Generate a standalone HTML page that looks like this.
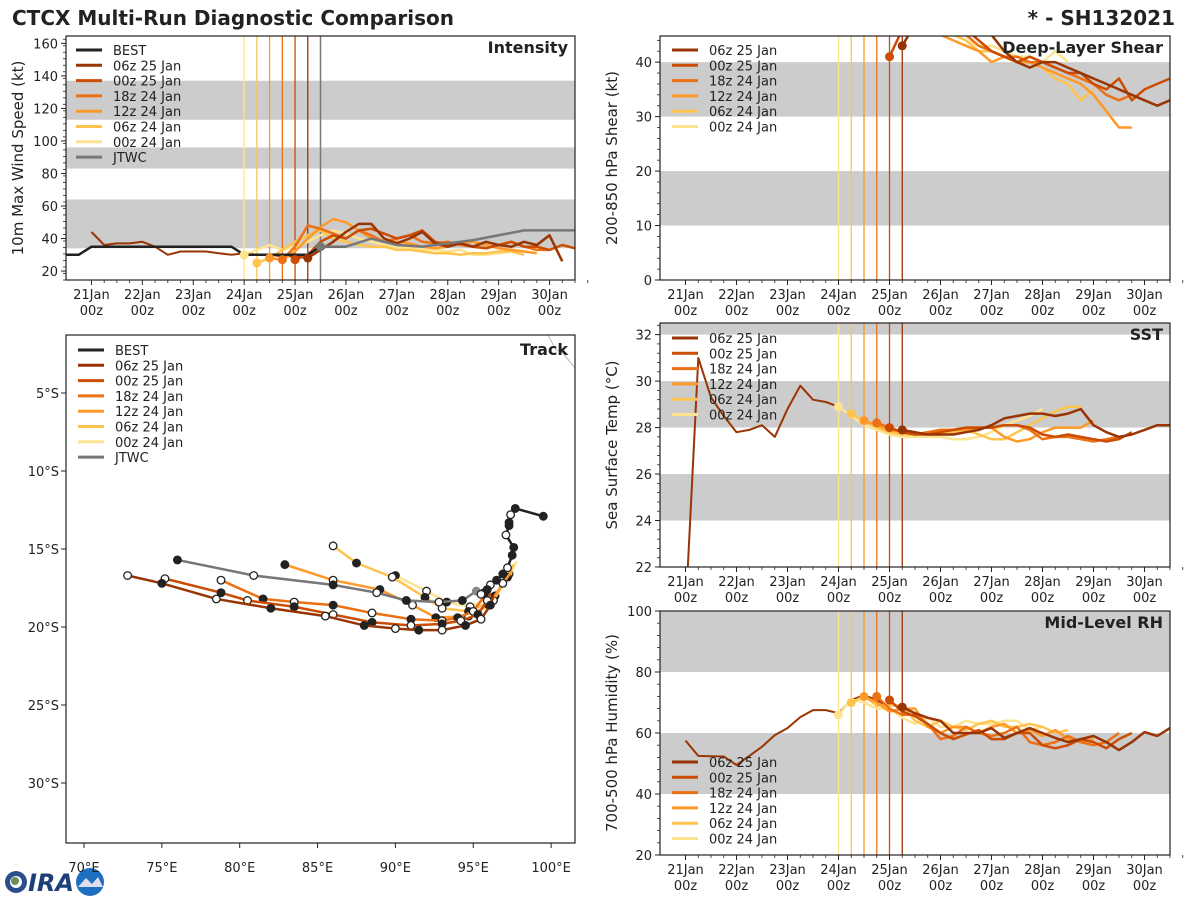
<!DOCTYPE html>
<html><head><meta charset="utf-8"><style>
body{margin:0;background:#fff;width:1200px;height:900px;overflow:hidden;font-family:"DejaVu Sans","Liberation Sans",sans-serif}
svg text{font-family:"DejaVu Sans","Liberation Sans",sans-serif;fill:#222}
</style></head><body>
<svg id="c" width="1200" height="900" xmlns="http://www.w3.org/2000/svg">
<text x="12" y="25" font-size="20" font-weight="bold">CTCX Multi-Run Diagnostic Comparison</text>
<text x="1175" y="25" font-size="20" font-weight="bold" text-anchor="end">* - SH132021</text>
<g>
<circle cx="16" cy="882" r="11" fill="#2a4f8a"/><circle cx="16" cy="882" r="6" fill="#fff"/><circle cx="15" cy="881" r="4" fill="#6b8f5a"/>
<text x="28" y="891" font-size="24" font-weight="bold" style="fill:#1f3f7a" font-style="italic">IRA</text>
<circle cx="90" cy="882" r="14" fill="#1e6fc0"/><path d="M78 887 L86 878 L92 884 L98 877 L103 887 Z" fill="#dde"/>
</g>
</svg>
<script>
// ===== data =====
const runLabels=["06z 25 Jan","00z 25 Jan","18z 24 Jan","12z 24 Jan","06z 24 Jan","00z 24 Jan"];
const runColors=["#993404","#cc4c02","#ec7014","#fe9929","#fec44f","#fee391"];
const runInit=[4.25,4.0,3.75,3.5,3.25,3.0];
const dayLabels=["21Jan","22Jan","23Jan","24Jan","25Jan","26Jan","27Jan","28Jan","29Jan","30Jan"];
// intensity (kt), 6-hourly
const bestStart=-0.5;
const bestVmax=[30,30,35,35,35,35,35,35,35,35,35,35,35,35,30,30,30,30,30,30,35,35,35];
const hist06zStart=0;
const hist06zVmax=[44,36,37,37,38,35,30,32,32,32,31,30,31,30,30,29,29,28];
const jtwcTimes=[4.5,5.0,5.5,6.0,6.5,7.0,7.5,8.0,8.5,9.0,9.5];
const jtwcVmax=[35,35,40,36,35,37,39,42,45,45,45];
const vmaxRuns=[
[28,33,38,44,49,49,40,37,40,44,37,35,37,35,38,36,35,38,36,42,26],
[27,30,38,42,40,45,46,43,40,42,45,38,36,37,35,34,36,38,35,35,33,36,34],
[27,35,48,46,43,40,45,42,38,40,42,38,37,38,36,35,34,36,38,35,33,33],
[28,27,32,40,47,52,50,45,40,38,38,37,35,34,35,37,38,36,34,33,32,31],
[25,28,33,38,42,45,40,38,36,35,35,33,33,32,31,31,30,31,31,32,32,30],
[30,33,36,33,35,38,42,45,43,40,38,36,35,34,33,33,32,33,30,30,31,32]];
// shear (kt)
const shearRuns=[
[43,47,50,52,50,48,47,45,42,40,39,40,40,39,38,37,36,35,34,33,32,33,35,37,38],
[41,46,49,50,48,47,46,44,42,41,40,41,40,39,38,38,36,35,37,33,35,36,37,39],
[48,50,47,46,45,46,47,45,43,42,41,41,40,40,39,38,37,36,34,33,34,33],
[50,48,47,45,46,47,45,44,43,42,40,41,40,40,39,38,37,36,34,31,28,28],
[50,49,48,47,47,46,45,46,45,44,42,42,41,40,40,39,37,36,33,35],
[51,50,49,48,48,47,46,46,45,45,44,43,43,42,41,41,40,42,40]];
// SST (C)
const sstHistStart=0;
const sstHist=[20,31,29.3,28.5,27.8,27.9,28.1,27.6,28.8,29.8,29.2,29.1,28.9];
const sstRuns=[
[27.9,27.8,27.7,27.7,27.7,27.8,27.9,28.1,28.4,28.5,28.6,28.6,28.5,28.6,28.8,28.1,27.8,27.6,27.7,27.9,28.1,28.1,28.1],
[28.0,27.8,27.7,27.7,27.8,27.9,28.0,28.0,28.0,28.1,28.1,28.0,27.7,27.6,27.7,27.6,27.5,27.4,27.5,27.8],
[28.2,28.0,27.8,27.7,27.8,27.9,27.9,28.0,28.0,28.0,28.1,28.1,27.9,27.5,27.6,27.6,27.5,27.4,27.5,27.6],
[28.3,28.1,27.9,27.8,27.7,27.8,27.9,27.9,27.9,28.0,28.0,27.6,27.4,27.5,27.8,28.0,28.0,28.0,28.3],
[28.6,28.3,28.0,27.8,27.7,27.7,27.8,27.8,27.8,27.9,27.7,27.5,27.5,27.8,28.1,28.4,28.7,28.9,28.9],
[28.9,28.5,28.1,27.9,27.7,27.6,27.6,27.6,27.6,27.5,27.5,27.6,27.8,28.1,28.3,28.5,28.8]];
// RH (%)
const rhHistStart=0;
const rhHist=[57.5,52.5,52.4,52.3,49.5,52.5,55.5,59.3,61.6,65.2,67.5,67.5,66.5,70.8,72.4,70.8,68.5];
const rhRuns=[
[68.5,66.5,65,64,60,60,60,61.6,58.4,60,61.6,60,58.4,57,58,59,57,54.4,57,60.3,59,61.6],
[70.8,67,65.5,63,60,58,59.5,61,58,58,60,60,56,55,56,58,57,55,58,60],
[72,68,66,66,63,58,59,62,60,59,60,62,57,56,57,59,57,56,57,60],
[72,70,67,68,68,62,60,62,62,60,62,63,60,61,59,61,58,57,58],
[70,72,69,69,69,64,62,64,62,61,63,64,62,62,63,62,60,61],
[66,71,70,68,68,65,63,65,62,62,64,63,63,64,64,61,62]];
// track (lon E, lat S)
const bestLon=[99.5,97.7,97.4,97.3,97.3,97.1,97.6,97.5,97.2,96.9,96.5,96.1,95.9,95.7,95.5];
const bestLat=[12.9,12.4,12.8,13.3,13.5,14.1,14.9,15.4,16.2,16.6,17.0,17.3,17.6,17.8,17.9];
const jtwcLon=[95.2,94.3,92.8,90.7,88.8,86.0,80.9,76.0];
const jtwcLat=[17.7,18.3,18.4,18.3,17.8,17.3,16.7,15.7];
const trackLon=[
[96.3,96.1,95.5,94.5,93.0,91.5,90.0,88.0,85.5,82.0,78.5,75.0,72.8],
[96.1,95.9,95.3,94.2,93.0,91.0,88.5,86.0,83.5,80.5,78.8,75.2],
[95.9,95.8,95.0,94.0,93.0,91.0,88.5,86.0,83.5,81.5,78.8],
[97.5,96.9,96.0,94.7,92.6,91.1,89.0,86.0,82.9],
[97.6,97.2,96.3,94.7,93.0,91.9,89.8,87.5,86.0],
[97.8,97.3,96.4,94.8,93.3,92.0,90.0]];
const trackLat=[
[18.0,18.6,19.5,19.9,20.2,20.2,20.1,19.9,19.3,18.8,18.2,17.2,16.7],
[17.8,18.3,19.2,19.6,19.8,19.9,19.7,19.2,18.7,18.3,17.8,16.9],
[17.5,17.9,19.0,19.4,19.6,19.5,19.1,18.6,18.4,18.2,17.0],
[16.4,17.2,18.6,19.3,19.4,18.6,17.6,17.0,16.0],
[16.0,16.8,18.3,19.0,18.8,18.1,16.8,15.9,14.8],
[15.8,16.6,18.0,18.7,18.4,17.7,16.7]];
const tickLon=[70,75,80,85,90,95,100];
const tickLat=[5,10,15,20,25,30];

// ===== helpers =====
const NS="http://www.w3.org/2000/svg",svg=document.getElementById('c');
function el(t,a,p){const e=document.createElementNS(NS,t);for(const k in a)e.setAttribute(k,a[k]);(p||svg).appendChild(e);return e;}
function txt(s,a,p){const e=el('text',a,p);e.textContent=s;return e;}
function panel(name,x0,y0,x1,y1,ymin,ymax,bands,yticks,ytitle,title,withX){
  const g=el('g',{});
  
  
  const cp=el('clipPath',{id:'cp-'+name},g);el('rect',{x:x0,y:y0,width:x1-x0,height:y1-y0},cp);
  const Y=v=>y1-(v-ymin)/(ymax-ymin)*(y1-y0);
  const ppd=(x1-x0)/10, X=t=>x0+(t+0.5)*ppd;
  bands.forEach(b=>{const r=el('rect',{x:x0,y:Y(Math.min(b[1],ymax)),width:x1-x0,height:Y(b[0])-Y(Math.min(b[1],ymax)),fill:'#cccccc'},g);
    });
  yticks.forEach(v=>{el('line',{x1:x0-5,x2:x0,y1:Y(v),y2:Y(v),stroke:'#222'},g);
    const t=txt(String(v),{x:x0-8,y:Y(v)+5,'font-size':13,'text-anchor':'end'},g);});
  const step=(yticks[1]-yticks[0])/5;
  for(let v=ymin;v<=ymax;v+=step){if(v>=ymin)el('line',{x1:x0-3,x2:x0,y1:Y(v),y2:Y(v),stroke:'#222','stroke-width':0.8},g);}
  if(withX){dayLabels.forEach((d,i)=>{const x=X(i);el('line',{x1:x,x2:x,y1:y1,y2:y1+5,stroke:'#222'},g);
    const a=txt(d,{x:x,y:y1+19,'font-size':13,'text-anchor':'middle'},g);
    txt('00z',{x:x,y:y1+35,'font-size':13,'text-anchor':'middle'},g);
    for(let k=1;k<4;k++)el('line',{x1:x+k*ppd/4,x2:x+k*ppd/4,y1:y1,y2:y1+3,stroke:'#222','stroke-width':0.8},g);});}
  const yt=txt(ytitle,{transform:`translate(${x0-43},${(y0+y1)/2}) rotate(-90)`,'font-size':15,'text-anchor':'middle'},g);
  
  const data=el('g',{'clip-path':`url(#cp-${name})`},g);
  el('rect',{x:x0,y:y0,width:x1-x0,height:y1-y0,fill:'none',stroke:'#222','stroke-width':1.2},g);
  const tt=txt(title,{x:x1-7,y:y0+17,'font-size':16,'font-weight':'bold','text-anchor':'end'},g);
  
  return {g,data,X,Y,x0,y0,x1,y1};
}
function series(P,t0,vals,color,w,name){
  const pts=vals.map((v,i)=>P.X(t0+i*0.25).toFixed(1)+','+P.Y(v).toFixed(1)).join(' ');
  const l=el('polyline',{points:pts,fill:'none',stroke:color,'stroke-width':w||2.5,'stroke-linejoin':'round'},P.data);
  
  
  return l;
}
function initLines(P){
  runInit.forEach((t,i)=>{el('line',{x1:P.X(t),x2:P.X(t),y1:P.y0,y2:P.y1,stroke:runColors[i],'stroke-width':1.3},P.data);});
}
function dots(P,runs){runInit.forEach((t,i)=>{const c=el('circle',{cx:P.X(t),cy:P.Y(runs[i][0]),r:4.5,fill:runColors[i]},P.data);
  });}
function legend(P,x,y,entries){
  const g=el('g',{},P.g);
  
  
  entries.forEach((e,i)=>{const yy=y+i*15.3;el('line',{x1:x,x2:x+26,y1:yy,y2:yy,stroke:e[1],'stroke-width':3},g);
    const t=txt(e[0],{x:x+37,y:yy+5,'font-size':13},g);});
}
const runEntries=runLabels.map((l,i)=>[l,runColors[i]]);

// ===== intensity =====
const I=panel('intensity',66,36,575,280,14.5,164.5,[[34,64],[83,96],[113,137]],[20,40,60,80,100,120,140,160],'10m Max Wind Speed (kt)','Intensity',true);
initLines(I);
el('line',{x1:I.X(4.5),x2:I.X(4.5),y1:I.y0,y2:I.y1,stroke:'#777','stroke-width':1.5},I.data);
series(I,hist06zStart,hist06zVmax,runColors[0],2,'history-line');
for(let i=5;i>=0;i--)series(I,runInit[i],vmaxRuns[i],runColors[i],2.5,'intensity-run-line');
series(I,bestStart,bestVmax,'#222',2.5,'best-track-intensity');
{const pts=jtwcTimes.map((t,i)=>I.X(t)+','+I.Y(jtwcVmax[i])).join(' ');const l=el('polyline',{points:pts,fill:'none',stroke:'#777','stroke-width':2.5},I.data);

el('circle',{cx:I.X(4.5),cy:I.Y(35),r:4.5,fill:'#777'},I.data);}
dots(I,vmaxRuns);
legend(I,76,50,[['BEST','#222'],...runEntries,['JTWC','#777']]);

// ===== shear =====
const S=panel('shear',660,36,1170,280,0,44.8,[[10,20],[30,40]],[0,10,20,30,40],'200-850 hPa Shear (kt)','Deep-Layer Shear',true);
initLines(S);
for(let i=5;i>=0;i--)series(S,runInit[i],shearRuns[i],runColors[i],2.5,'shear-run-line');
dots(S,shearRuns);
legend(S,672,50,runEntries);

// ===== SST =====
const T=panel('sst',660,323,1170,567,22,32.5,[[24,26],[28,30],[32,33]],[22,24,26,28,30,32],'Sea Surface Temp (°C)','SST',true);
initLines(T);
series(T,sstHistStart,sstHist,runColors[0],2,'sst-history');
for(let i=5;i>=0;i--)series(T,runInit[i],sstRuns[i],runColors[i],2.5,'sst-run-line');
dots(T,sstRuns);
legend(T,672,338,runEntries);

// ===== RH =====
const R=panel('rh',660,611,1170,855,20,100,[[40,60],[80,100]],[20,40,60,80,100],'700-500 hPa Humidity (%)','Mid-Level RH',true);
initLines(R);
series(R,rhHistStart,rhHist,runColors[0],2,'rh-history');
for(let i=5;i>=0;i--)series(R,runInit[i],rhRuns[i],runColors[i],2.5,'rh-run-line');
dots(R,rhRuns);
legend(R,672,762,runEntries);

// ===== track =====
const LX=lon=>84+(lon-70)*15.57, LY=lat=>393+(lat-5)*15.6;
{const g=el('g',{});


const cp=el('clipPath',{id:'cp-track'},g);el('rect',{x:66,y:335,width:509,height:508},cp);
const d=el('g',{'clip-path':'url(#cp-track)'},g);
el('path',{d:'M548 335 L556 350 L562 352 L575 368',stroke:'#bbb',fill:'none','stroke-width':1},d);
function trk(lons,lats,color,name,alt){
  const l=el('polyline',{points:lons.map((v,i)=>LX(v)+','+LY(lats[i])).join(' '),fill:'none',stroke:color,'stroke-width':2.5},d);
  
  
  lons.forEach((v,i)=>{if(i>0){const c=el('circle',{cx:LX(v),cy:LY(lats[i]),r:3.8,fill:(i%2===(alt?0:1))?'#222':'#fff',stroke:'#222','stroke-width':1.3},d);
    }});
}
for(let i=5;i>=0;i--)trk(trackLon[i],trackLat[i],runColors[i],'forecast-track',i%2);
trk(jtwcLon,jtwcLat,'#777','jtwc-track',0);
el('circle',{cx:LX(jtwcLon[0]),cy:LY(jtwcLat[0]),r:4.5,fill:'#888'},d);
const bl=el('polyline',{points:bestLon.map((v,i)=>LX(v)+','+LY(bestLat[i])).join(' '),fill:'none',stroke:'#222','stroke-width':2.5},d);

bestLon.forEach((v,i)=>{const c=el('circle',{cx:LX(v),cy:LY(bestLat[i]),r:3.8,fill:(i%3===2)?'#fff':'#222',stroke:'#222','stroke-width':1.3},d);
  });
el('rect',{x:66,y:335,width:509,height:508,fill:'none',stroke:'#222','stroke-width':1.2},g);
tickLon.forEach(v=>{el('line',{x1:LX(v),x2:LX(v),y1:843,y2:848,stroke:'#222'},g);
  const t=txt(v+'°E',{x:LX(v),y:872,'font-size':13,'text-anchor':'middle'},g);});
tickLat.forEach(v=>{el('line',{x1:61,x2:66,y1:LY(v),y2:LY(v),stroke:'#222'},g);
  const t=txt(v+'°S',{x:59,y:LY(v)+5,'font-size':13,'text-anchor':'end'},g);});
const tt=txt('Track',{x:568,y:355,'font-size':16,'font-weight':'bold','text-anchor':'end'},g);

legend({g},78,350,[['BEST','#222'],...runEntries,['JTWC','#777']]);
}
</script>
</body></html>
